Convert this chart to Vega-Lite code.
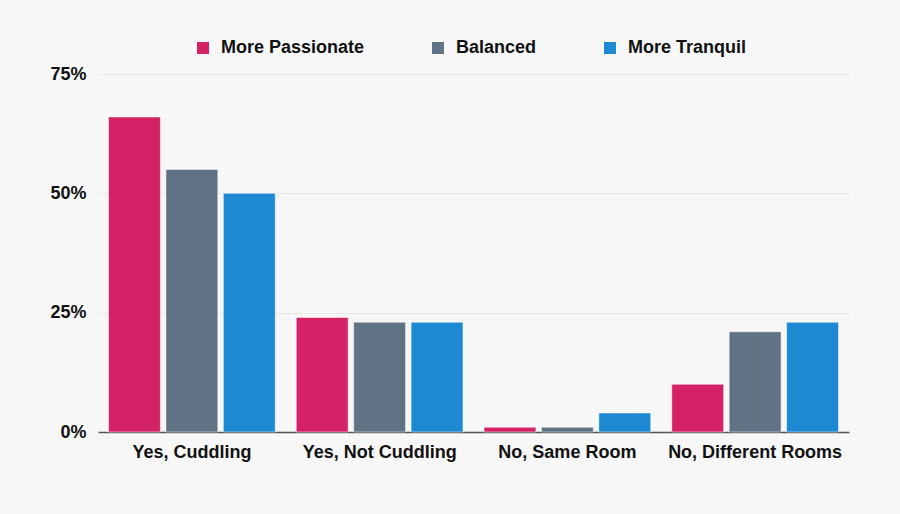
{
  "$schema": "https://vega.github.io/schema/vega-lite/v6.json",
  "width": 751,
  "height": 358,
  "autosize": {"type": "none"},
  "padding": {"left": 98, "top": 74, "right": 51, "bottom": 82},
  "background": "#f7f7f7",
  "config": {
    "view": {"stroke": null},
    "font": "Liberation Sans"
  },
  "data": {
    "values": [
      {"answer": "Yes, Cuddling", "type": "More Passionate", "value": 0.66},
      {"answer": "Yes, Cuddling", "type": "Balanced", "value": 0.55},
      {"answer": "Yes, Cuddling", "type": "More Tranquil", "value": 0.50},
      {"answer": "Yes, Not Cuddling", "type": "More Passionate", "value": 0.24},
      {"answer": "Yes, Not Cuddling", "type": "Balanced", "value": 0.23},
      {"answer": "Yes, Not Cuddling", "type": "More Tranquil", "value": 0.23},
      {"answer": "No, Same Room", "type": "More Passionate", "value": 0.01},
      {"answer": "No, Same Room", "type": "Balanced", "value": 0.01},
      {"answer": "No, Same Room", "type": "More Tranquil", "value": 0.04},
      {"answer": "No, Different Rooms", "type": "More Passionate", "value": 0.10},
      {"answer": "No, Different Rooms", "type": "Balanced", "value": 0.21},
      {"answer": "No, Different Rooms", "type": "More Tranquil", "value": 0.23}
    ]
  },
  "mark": {"type": "bar", "stroke": "#ffffff", "strokeWidth": 1, "strokeOpacity": 0.5},
  "encoding": {
    "x": {
      "field": "answer",
      "type": "nominal",
      "sort": ["Yes, Cuddling", "Yes, Not Cuddling", "No, Same Room", "No, Different Rooms"],
      "scale": {"paddingInner": 0.112, "paddingOuter": 0.056},
      "axis": {
        "title": null,
        "labelAngle": 0,
        "labelFont": "Liberation Sans",
        "labelFontWeight": "bold",
        "labelFontSize": 18,
        "labelColor": "#111111",
        "labelPadding": 11,
        "ticks": false,
        "domainColor": "#555555",
        "domainWidth": 1.5,
        "grid": false
      }
    },
    "xOffset": {
      "field": "type",
      "type": "nominal",
      "sort": ["More Passionate", "Balanced", "More Tranquil"],
      "scale": {"paddingInner": 0.096, "paddingOuter": 0}
    },
    "y": {
      "field": "value",
      "type": "quantitative",
      "scale": {"domain": [0, 0.75]},
      "axis": {
        "title": null,
        "values": [0, 0.25, 0.5, 0.75],
        "format": ".0%",
        "labelFont": "Liberation Sans",
        "labelFontWeight": "bold",
        "labelFontSize": 18,
        "labelColor": "#111111",
        "labelPadding": 12,
        "ticks": false,
        "domain": false,
        "gridColor": "#e8e8e8",
        "gridWidth": 1
      }
    },
    "color": {
      "field": "type",
      "type": "nominal",
      "sort": ["More Passionate", "Balanced", "More Tranquil"],
      "scale": {
        "domain": ["More Passionate", "Balanced", "More Tranquil"],
        "range": ["#d42267", "#5f7385", "#1c89d2"]
      },
      "legend": {
        "title": null,
        "orient": "none",
        "direction": "horizontal",
        "legendX": 96,
        "legendY": -35,
        "symbolType": "square",
        "symbolSize": 144,
        "symbolStrokeWidth": 0,
        "labelFont": "Liberation Sans",
        "labelFontWeight": "bold",
        "labelFontSize": 18,
        "labelColor": "#111111",
        "labelOffset": 9,
        "columnPadding": 64,
        "labelLimit": 300
      }
    }
  }
}
